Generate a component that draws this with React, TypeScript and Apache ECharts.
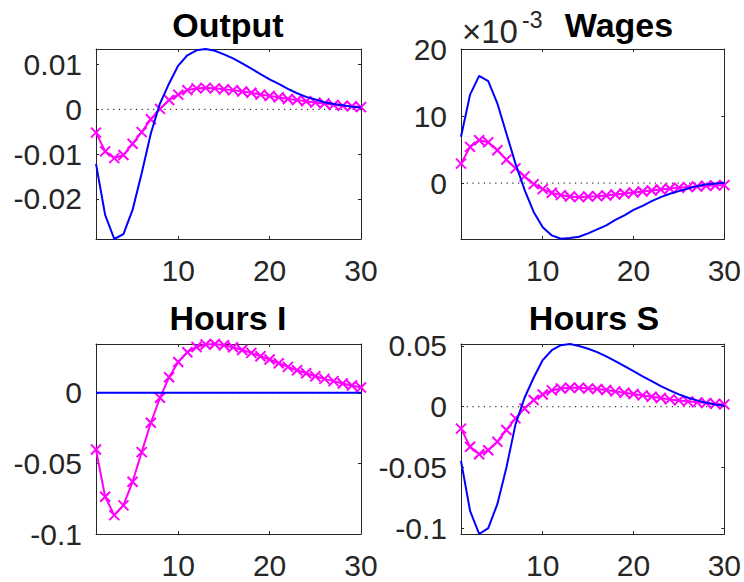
import React, { useEffect, useRef } from 'react';
import * as echarts from 'echarts';

// ---------- data ----------
const periods = [1, 2, 3, 4, 5, 6, 7, 8, 9, 10, 11, 12, 13, 14, 15, 16, 17, 18, 19, 20, 21, 22, 23, 24, 25, 26, 27, 28, 29, 30];

const titles = ['Output', 'Wages', 'Hours I', 'Hours S'];

const outputBlue = [-0.0122, -0.0236, -0.029, -0.0279, -0.0225, -0.0143, -0.0054, 0.0013, 0.0058, 0.0098, 0.0121, 0.0132, 0.0135, 0.0131, 0.0123, 0.0114, 0.0103, 0.0091, 0.0079, 0.0067, 0.0057, 0.0046, 0.0036, 0.0028, 0.0022, 0.0016, 0.0012, 0.0009, 0.0006, 0.0004];
const outputMagenta = [-0.0052, -0.0094, -0.0109, -0.0102, -0.0077, -0.0051, -0.0022, 0.0001, 0.0021, 0.0033, 0.0043, 0.0047, 0.0048, 0.0047, 0.0045, 0.0043, 0.004, 0.0037, 0.0033, 0.003, 0.0027, 0.0023, 0.0021, 0.0018, 0.0015, 0.0013, 0.001, 0.0008, 0.0007, 0.0005];

const wagesBlue = [0.0069, 0.0132, 0.016, 0.0152, 0.0119, 0.0074, 0.0029, -0.001, -0.0043, -0.0066, -0.0078, -0.0083, -0.0082, -0.008, -0.0075, -0.0069, -0.0063, -0.0055, -0.0048, -0.004, -0.0034, -0.0027, -0.0021, -0.0016, -0.0012, -0.0008, -0.00045, -0.0002, -0.00005, 0.00005];
const wagesMagenta = [0.0029, 0.0054, 0.0064, 0.0061, 0.0049, 0.0035, 0.0022, 0.001, -0.00015, -0.0009, -0.00145, -0.0018, -0.002, -0.0021, -0.002, -0.00195, -0.00185, -0.0017, -0.00155, -0.0014, -0.00125, -0.0011, -0.00095, -0.0008, -0.0007, -0.0006, -0.0005, -0.0004, -0.00035, -0.0003];

const hoursIBlue = [0, 0, 0, 0, 0, 0, 0, 0, 0, 0, 0, 0, 0, 0, 0, 0, 0, 0, 0, 0, 0, 0, 0, 0, 0, 0, 0, 0, 0, 0];
const hoursIMagenta = [-0.0401, -0.0736, -0.0866, -0.0797, -0.063, -0.042, -0.0212, -0.0035, 0.0111, 0.0219, 0.0288, 0.0325, 0.0343, 0.0346, 0.0337, 0.0323, 0.0304, 0.0283, 0.0259, 0.0236, 0.021, 0.0184, 0.016, 0.0139, 0.0118, 0.0099, 0.0083, 0.0066, 0.0052, 0.0038];

const hoursSBlue = [-0.0445, -0.0855, -0.1045, -0.0997, -0.08, -0.05, -0.0145, 0.0074, 0.0238, 0.0383, 0.0464, 0.0505, 0.0515, 0.0499, 0.0476, 0.0448, 0.0413, 0.0374, 0.0333, 0.0292, 0.0249, 0.021, 0.0169, 0.0134, 0.0101, 0.0074, 0.0052, 0.0033, 0.0019, 0.0008];
const hoursSMagenta = [-0.018, -0.0328, -0.039, -0.0358, -0.0287, -0.0191, -0.0096, -0.0014, 0.0055, 0.0101, 0.0134, 0.015, 0.0156, 0.0156, 0.015, 0.0145, 0.0137, 0.0126, 0.0115, 0.0104, 0.0093, 0.0082, 0.0071, 0.006, 0.0052, 0.0044, 0.0036, 0.003, 0.0025, 0.0019];

const blueSeries = [outputBlue, wagesBlue, hoursIBlue, hoursSBlue];
const magentaSeries = [outputMagenta, wagesMagenta, hoursIMagenta, hoursSMagenta];

const yMins = [-0.029, -0.00834, -0.1, -0.1045];
const yMaxs = [0.0135, 0.02, 0.0346, 0.0515];
const yIntervals = [0.01, 0.01, 0.05, 0.05];
const yLabelScales = [1, 1000, 1, 1];
const xTickInterval = 10;
const exponentBase = '×10';
const exponentPower = '-3';

// ---------- chart ----------
const FONT = '"Liberation Sans", Arial, Helvetica, sans-serif';
const AX = '#262626';
const BLUE = '#0000ff';
const MAGENTA = '#ff00ff';

const grids = [
  { left: 96, top: 49, width: 265, height: 190 },
  { left: 461, top: 49, width: 265, height: 190 },
  { left: 96, top: 344, width: 265, height: 190 },
  { left: 461, top: 344, width: 265, height: 190 },
];
const titlePos = [
  { cx: 228, top: 8 },
  { cx: 619, top: 8 },
  { cx: 228, top: 301 },
  { cx: 594, top: 301 },
];

function tickFormatter(interval: number, scale: number) {
  return (v: number) => {
    const r = Math.round(v / interval);
    if (Math.abs(v / interval - r) > 1e-6) return '';
    const val = +(r * interval * scale).toFixed(6);
    return String(val === 0 ? 0 : val);
  };
}

function buildOption() {
  const xAxis: any[] = [];
  const yAxis: any[] = [];
  const series: any[] = [];
  const title: any[] = [];
  const axisLine = { show: true, onZero: false, lineStyle: { color: AX, width: 1 } };
  const axisTick = { show: true, inside: true, length: 3, lineStyle: { color: AX, width: 1 } };
  const labelBase = { fontSize: 30, color: AX, fontFamily: FONT };

  grids.forEach((g, i) => {
    const xBase = {
      type: 'value', gridIndex: i, min: periods[0], max: periods[periods.length - 1],
      minInterval: xTickInterval, maxInterval: xTickInterval,
      axisLine, axisTick, splitLine: { show: false },
    };
    xAxis.push({ ...xBase, position: 'bottom', axisLabel: { ...labelBase, margin: 16, formatter: tickFormatter(xTickInterval, 1) } });
    xAxis.push({ ...xBase, position: 'top', axisLabel: { show: false } });
    const yBase = {
      type: 'value', gridIndex: i, min: yMins[i], max: yMaxs[i],
      minInterval: yIntervals[i], maxInterval: yIntervals[i],
      axisLine, axisTick, splitLine: { show: false },
    };
    yAxis.push({ ...yBase, position: 'left', axisLabel: { ...labelBase, margin: 14, formatter: tickFormatter(yIntervals[i], yLabelScales[i]) } });
    yAxis.push({ ...yBase, position: 'right', axisLabel: { show: false } });

    title.push({
      text: titles[i], left: titlePos[i].cx, top: titlePos[i].top, textAlign: 'center', padding: 0,
      textStyle: { fontSize: 34, fontWeight: 'bold', color: '#000', fontFamily: FONT },
    });

    series.push({
      type: 'line', xAxisIndex: 2 * i, yAxisIndex: 2 * i, symbol: 'none', silent: true, clip: false,
      data: [[periods[0], 0], [periods[periods.length - 1], 0]],
      lineStyle: { color: '#000', width: 1, type: [1.2, 4.5] }, z: 1,
    });
    series.push({
      type: 'line', xAxisIndex: 2 * i, yAxisIndex: 2 * i, clip: false, showAllSymbol: true,
      data: periods.map((p, k) => [p, magentaSeries[i][k]]),
      symbol: 'path://M0,0L10,10M10,0L0,10', symbolSize: 10,
      itemStyle: { color: 'rgba(0,0,0,0)', borderColor: MAGENTA, borderWidth: 2 },
      lineStyle: { color: MAGENTA, width: 2 }, z: 2,
    });
    series.push({
      type: 'line', xAxisIndex: 2 * i, yAxisIndex: 2 * i, clip: false, symbol: 'none',
      data: periods.map((p, k) => [p, blueSeries[i][k]]),
      lineStyle: { color: BLUE, width: 2 }, z: 3,
    });
  });

  return {
    animation: false,
    backgroundColor: '#fff',
    title,
    grid: grids.map((g) => ({ ...g, containLabel: false })),
    xAxis,
    yAxis,
    series,
    graphic: [
      { type: 'text', x: 462, y: 15, style: { text: exponentBase, fontSize: 33, fontFamily: FONT, fill: AX, textVerticalAlign: 'top' } },
      { type: 'text', x: 522, y: 8, style: { text: exponentPower, fontSize: 23, fontFamily: FONT, fill: AX, textVerticalAlign: 'top' } },
    ],
  };
}

export default function App() {
  const ref = useRef<HTMLDivElement>(null);
  useEffect(() => {
    if (!ref.current) return;
    const chart = echarts.init(ref.current, null, { renderer: 'svg' });
    chart.setOption(buildOption() as any);
    return () => chart.dispose();
  }, []);
  return <div ref={ref} style={{ position: 'fixed', left: 0, top: 0, width: 744, height: 582 }} />;
}
